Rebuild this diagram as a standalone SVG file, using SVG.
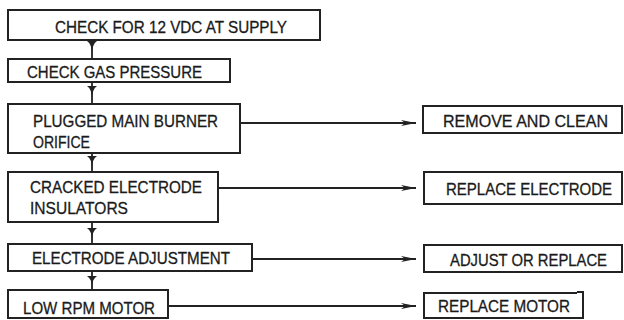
<svg xmlns="http://www.w3.org/2000/svg" width="624" height="320" viewBox="0 0 624 320">
<defs>
<style>
.box{fill:#fff;stroke:#222;stroke-width:2}
.t{font-family:"Liberation Sans",Arial,sans-serif;font-size:16.8px;fill:#1a1a1a;stroke:#1a1a1a;stroke-width:0.3}
.ln{stroke:#222;stroke-width:1.8;fill:none}
.tri{fill:#222}
</style>
<marker id="ah" markerWidth="16" markerHeight="8" refX="15" refY="4" orient="auto" markerUnits="userSpaceOnUse">
<path d="M0,1 L15,4 L0,7 L4,4 Z" fill="#222"/>
</marker>
</defs>
<g id="connectors">
<line class="ln" x1="92" y1="40" x2="92" y2="59"/>
<path class="tri" d="M87,41 Q92,44 92,55 Q92,44 97,41 Z"/>
<line class="ln" x1="92" y1="82" x2="92" y2="104"/>
<path class="tri" d="M87,86 Q92,89 92,100 Q92,89 97,86 Z"/>
<line class="ln" x1="92" y1="153" x2="92" y2="172"/>
<path class="tri" d="M87,156 Q92,159 92,169 Q92,159 97,156 Z"/>
<line class="ln" x1="92" y1="222" x2="92" y2="244"/>
<path class="tri" d="M87,228 Q92,231 92,241 Q92,231 97,228 Z"/>
<line class="ln" x1="92" y1="271" x2="92" y2="290"/>
<path class="tri" d="M87,276 Q92,279 92,288 Q92,279 97,276 Z"/>
<line class="ln" x1="240" y1="123" x2="416" y2="123" marker-end="url(#ah)"/>
<line class="ln" x1="218" y1="188" x2="416" y2="188" marker-end="url(#ah)"/>
<line class="ln" x1="252" y1="259" x2="416" y2="259" marker-end="url(#ah)"/>
<line class="ln" x1="168" y1="306" x2="416" y2="306" marker-end="url(#ah)"/>
</g>
<g id="n1"><rect class="box" x="8" y="10" width="312" height="30"/><text class="t" x="55" y="33" textLength="232" lengthAdjust="spacingAndGlyphs">CHECK FOR 12 VDC AT SUPPLY</text></g>
<g id="n2"><rect class="box" x="8" y="59" width="222" height="23"/><text class="t" x="27" y="78" textLength="175" lengthAdjust="spacingAndGlyphs">CHECK GAS PRESSURE</text></g>
<g id="n3"><rect class="box" x="8" y="104" width="232" height="49"/><text class="t" x="33" y="127" textLength="185" lengthAdjust="spacingAndGlyphs">PLUGGED MAIN BURNER</text><text class="t" x="33" y="148" textLength="57" lengthAdjust="spacingAndGlyphs">ORIFICE</text></g>
<g id="n4"><rect class="box" x="8" y="172" width="210" height="50"/><text class="t" x="30" y="193" textLength="172" lengthAdjust="spacingAndGlyphs">CRACKED ELECTRODE</text><text class="t" x="30" y="214" textLength="98" lengthAdjust="spacingAndGlyphs">INSULATORS</text></g>
<g id="n5"><rect class="box" x="8" y="244" width="244" height="27"/><text class="t" x="32" y="264" textLength="198" lengthAdjust="spacingAndGlyphs">ELECTRODE ADJUSTMENT</text></g>
<g id="n6"><rect class="box" x="8" y="290" width="160" height="28"/><text class="t" x="23" y="314" textLength="132" lengthAdjust="spacingAndGlyphs">LOW RPM MOTOR</text></g>
<g id="r1"><rect class="box" x="423" y="106" width="199" height="27"/><text class="t" x="443" y="127" textLength="165" lengthAdjust="spacingAndGlyphs">REMOVE AND CLEAN</text></g>
<g id="r2"><rect class="box" x="424" y="172" width="198" height="32"/><text class="t" x="446" y="195" textLength="166" lengthAdjust="spacingAndGlyphs">REPLACE ELECTRODE</text></g>
<g id="r3"><rect class="box" x="424" y="245" width="198" height="27"/><text class="t" x="450" y="266" textLength="157" lengthAdjust="spacingAndGlyphs">ADJUST OR REPLACE</text></g>
<g id="r4"><path class="box" d="M577,293 L424,293 L424,318 L583,318 L583,292 L577,292"/><text class="t" x="438" y="312" textLength="132" lengthAdjust="spacingAndGlyphs">REPLACE MOTOR</text></g>
</svg>
